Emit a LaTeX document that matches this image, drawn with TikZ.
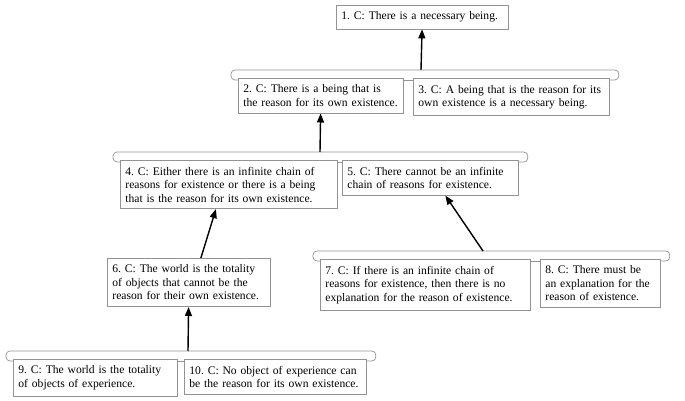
\documentclass[tikz,border=0pt]{standalone}
\usepackage{fontspec}
\setmainfont{Liberation Serif}
\usepackage{tikz}
\usetikzlibrary{arrows.meta, positioning, calc}
\frenchspacing
\hyphenpenalty=10000
\tikzset{
  claim/.style={rectangle, draw=gray!85, line width=0.8pt, fill=white,
                align=left, inner xsep=5pt, inner ysep=6.5pt, anchor=north west,
                font=\fontsize{11.6}{13.5}\selectfont},
  brk/.style={draw=gray!85, line width=0.7pt, rounded corners=4pt},
  arr/.style={-{Triangle[length=9pt,width=7pt]}, line width=1.4pt},
}

\begin{document}
\begin{tikzpicture}[x=1pt, y=1pt]
  \useasboundingbox (0,0) rectangle (685,401);

  \node[claim, text width=162pt] (b1) at (336,396) {1. C: There is a necessary being.};
  \node[claim, text width=155pt] (b2) at (238,323) {2. C: There is a being that is\\the reason for its own existence.};
  \node[claim, text width=186pt] (b3) at (413,323) {3. C: A being that is the reason for its\\own existence is a necessary being.};
  \node[claim, text width=207pt] (b4) at (120,241) {4. C: Either there is an infinite chain of\\reasons for existence or there is a being\\that is the reason for its own existence.};
  \node[claim, text width=166pt] (b5) at (342,241) {5. C: There cannot be an infinite\\chain of reasons for existence.};
  \node[claim, text width=153pt] (b6) at (107,143) {6. C: The world is the totality\\of objects that cannot be the\\reason for their own existence.};
  \node[claim, text width=200pt] (b7) at (320,142) {7. C: If there is an infinite chain of\\reasons for existence, then there is no\\explanation for the reason of existence.};
  \node[claim, text width=110pt] (b8) at (540,142) {8. C: There must be\\an explanation for the\\reason of existence.};
  \node[claim, text width=154pt] (b9) at (13,42) {9. C: The world is the totality\\of objects of experience.};
  \node[claim, text width=172pt] (b10) at (184,42) {10. C: No object of experience can\\be the reason for its own existence.};

  \foreach \l/\r in {b2/b3, b4/b5, b7/b8, b9/b10} {
    \draw[brk] ([yshift=-2pt]\l.north west) -| ++(-7pt,10pt)
      -| ([shift={(9pt,-2pt)}]\r.north east) -- ([yshift=-2pt]\r.north east);
    \draw[brk] ([yshift=-2pt]\l.north east) -- ([yshift=-2pt]\r.north west);
  }

  \coordinate (g1) at (421,331);
  \coordinate (g2) at (320,249);
  \coordinate (g3) at (483,150);
  \coordinate (g4) at (188,50);

  \draw[arr] (g1) -- (b1);
  \draw[arr] (g2) -- (b2);
  \draw[arr] ([xshift=12pt]b6.north) -- ([xshift=-13pt]b4.south);
  \draw[arr] (g3) -- ([xshift=15pt]b5.south);
  \draw[arr] (g4) -- (b6);
\end{tikzpicture}
\end{document}
